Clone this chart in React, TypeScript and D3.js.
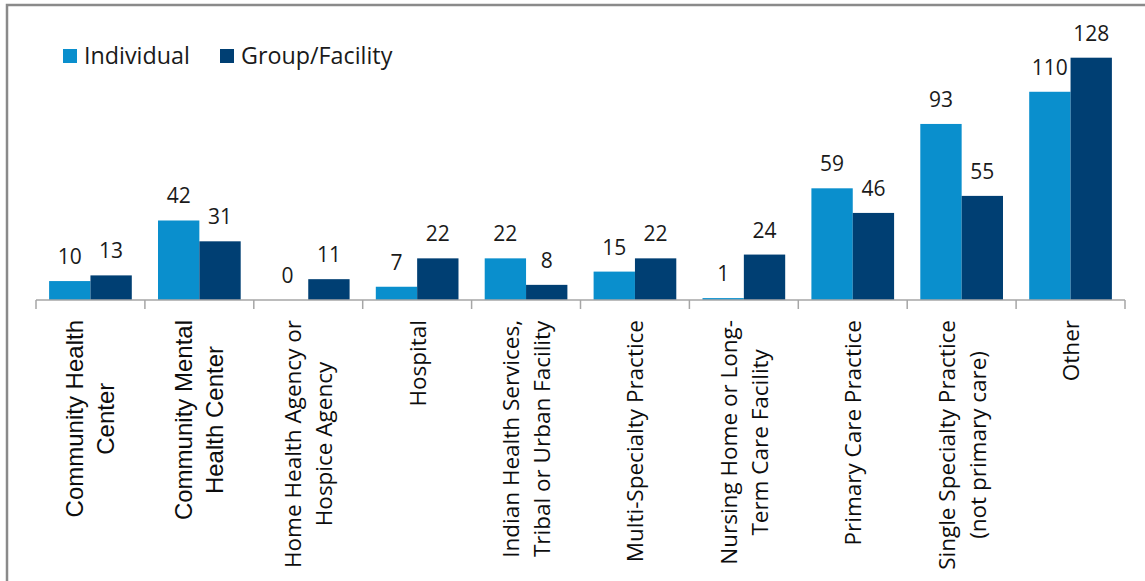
import React, { useEffect, useRef } from 'react';
import * as d3 from 'd3';

const categories = [
  'Community Health\nCenter',
  'Community Mental\nHealth Center',
  'Home Health Agency or\nHospice Agency',
  'Hospital',
  'Indian Health Services,\nTribal or Urban Facility',
  'Multi-Specialty Practice',
  'Nursing Home or Long-\nTerm Care Facility',
  'Primary Care Practice',
  'Single Specialty Practice\n(not primary care)',
  'Other',
];
const seriesNames = ['Individual', 'Group/Facility'];
const individualValues = [10, 42, 0, 7, 22, 15, 1, 59, 93, 110];
const groupValues = [13, 31, 11, 22, 8, 22, 24, 46, 55, 128];

const W = 1145;
const H = 581;
const COLORS = ['#0A8FCD', '#003F73'];
const CALIBRI = "'Open Sans', sans-serif";
const ARIAL = "'Liberation Sans', Arial, sans-serif";

export default function App() {
  const ref = useRef<SVGSVGElement | null>(null);

  useEffect(() => {
    const svg = d3.select(ref.current);
    svg.selectAll('*').remove();

    // frame
    svg.append('rect').attr('x', 0).attr('y', 0).attr('width', W).attr('height', H).attr('fill', '#fff');
    svg.append('rect')
      .attr('x', 7).attr('y', 5).attr('width', W + 50).attr('height', H + 50)
      .attr('fill', '#fff').attr('stroke', '#8a8a8a').attr('stroke-width', 2.5);

    const axisY = 300;
    const x0 = d3.scaleBand<number>().domain(d3.range(categories.length)).range([36, 1125]).padding(0);
    const x1 = d3.scaleBand<number>().domain([0, 1]).range([0, x0.bandwidth()]).paddingInner(0).paddingOuter(0.317);
    const y = d3.scaleLinear().domain([0, 140]).range([axisY, axisY - 140 * 1.893]);

    const series = [individualValues, groupValues];
    const g = svg.append('g');

    series.forEach((vals, si) => {
      g.selectAll(null)
        .data(vals)
        .enter()
        .append('rect')
        .attr('x', (_, i) => (x0(i) as number) + (x1(si) as number))
        .attr('y', (d) => y(d))
        .attr('width', x1.bandwidth())
        .attr('height', (d) => axisY - y(d))
        .attr('fill', COLORS[si]);
      g.selectAll(null)
        .data(vals)
        .enter()
        .append('text')
        .attr('x', (_, i) => (x0(i) as number) + (x1(si) as number) + x1.bandwidth() / 2)
        .attr('y', (d) => y(d) - 17)
        .attr('text-anchor', 'middle')
        .attr('font-family', CALIBRI)
        .attr('font-size', 21)
        .attr('fill', '#1a1a1a')
        .text((d) => String(d));
    });

    // axis line and ticks
    const axisColor = '#a6a6a6';
    svg.append('line')
      .attr('x1', 36).attr('x2', 1125).attr('y1', axisY).attr('y2', axisY)
      .attr('stroke', axisColor).attr('stroke-width', 1.5);
    d3.range(categories.length + 1).forEach((i) => {
      const tx = i < categories.length ? (x0(i) as number) : 1125;
      svg.append('line')
        .attr('x1', tx).attr('x2', tx).attr('y1', axisY).attr('y2', axisY + 9)
        .attr('stroke', axisColor).attr('stroke-width', 1.5);
    });

    // category labels (rotated)
    const lineH = 31;
    categories.forEach((cat, i) => {
      const lines = cat.split('\n');
      const cx = (x0(i) as number) + x0.bandwidth() / 2;
      const font = i < 2 ? ARIAL : CALIBRI;
      const size = i < 2 ? 24 : 22.5;
      const texts: any[] = [];
      lines.forEach((ln, li) => {
        const bx = cx + (li - (lines.length - 1) / 2) * lineH + 8.5;
        const t = svg.append('text')
          .attr('font-family', font)
          .attr('font-size', size)
          .attr('fill', '#0d0d0d')
          .attr('text-anchor', 'middle')
          .text(ln);
        texts.push({ t, bx });
      });
      const maxLen = d3.max(texts, (o: any) => (o.t.node() as SVGTextElement).getComputedTextLength()) || 0;
      texts.forEach((o: any) => {
        o.t.attr('transform', `translate(${o.bx},${320 + maxLen / 2}) rotate(-90)`);
      });
    });

    // legend
    const legendItems = [
      { x: 63, tx: 84 },
      { x: 220, tx: 241 },
    ];
    seriesNames.forEach((name, si) => {
      svg.append('rect')
        .attr('x', legendItems[si].x).attr('y', 49).attr('width', 14).attr('height', 14)
        .attr('fill', COLORS[si]);
      svg.append('text')
        .attr('x', legendItems[si].tx).attr('y', 63.5)
        .attr('font-family', CALIBRI)
        .attr('font-size', 23.3)
        .attr('fill', '#1a1a1a')
        .text(name);
    });
  }, []);

  return (
    <svg
      ref={ref}
      width={W}
      height={H}
      style={{ position: 'absolute', left: 0, top: 0, display: 'block' }}
    />
  );
}
